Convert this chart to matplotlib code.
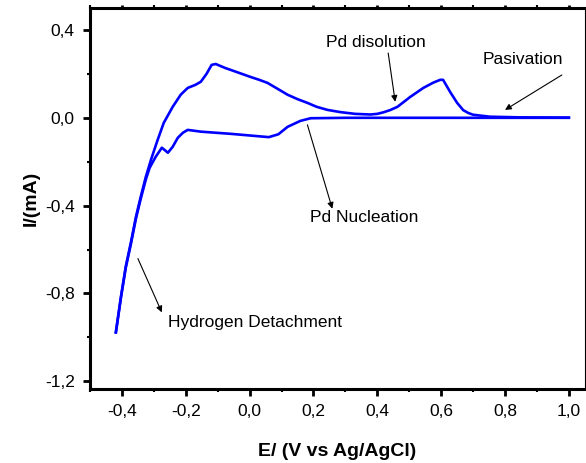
import numpy as np
import matplotlib
matplotlib.use("Agg")
import matplotlib.pyplot as plt
from matplotlib.ticker import MultipleLocator, FuncFormatter

plt.rcParams['font.family'] = ['Liberation Sans', 'DejaVu Sans']

# ── Voltammogram data ────────────────────────────────────────────────────────
anodic_E = [-0.419, -0.403, -0.388, -0.372, -0.356, -0.341, -0.325, -0.309,
            -0.288, -0.269, -0.241, -0.216, -0.194, -0.170, -0.153, -0.135,
            -0.119, -0.106, -0.090, -0.075, -0.059, -0.030, 0.003, 0.030,
            0.056, 0.090, 0.119, 0.150, 0.181, 0.210, 0.244, 0.284, 0.330,
            0.378, 0.400, 0.419, 0.440, 0.463, 0.503, 0.544, 0.575, 0.597,
            0.606, 0.628, 0.650, 0.669, 0.685, 0.700, 0.753, 0.850, 1.000]
anodic_I = [-0.977, -0.814, -0.677, -0.568, -0.450, -0.359, -0.268, -0.191,
            -0.100, -0.023, 0.050, 0.105, 0.136, 0.150, 0.164, 0.200,
            0.241, 0.245, 0.235, 0.226, 0.218, 0.203, 0.186, 0.173,
            0.159, 0.130, 0.105, 0.085, 0.068, 0.050, 0.036, 0.026, 0.018,
            0.015, 0.018, 0.025, 0.035, 0.050, 0.095, 0.136, 0.160, 0.173,
            0.173, 0.118, 0.068, 0.035, 0.022, 0.014, 0.005, 0.002, 0.001]

cathodic_E = [1.000, 0.600, 0.300, 0.191, 0.159, 0.119, 0.090, 0.060, -0.059,
              -0.153, -0.194, -0.209, -0.225, -0.241, -0.256, -0.275, -0.294,
              -0.313, -0.325, -0.341, -0.356, -0.372, -0.388, -0.403, -0.419]
cathodic_I = [0.000, 0.000, 0.000, -0.002, -0.014, -0.041, -0.075, -0.088, -0.073,
              -0.063, -0.055, -0.068, -0.091, -0.132, -0.159, -0.136, -0.177,
              -0.227, -0.280, -0.368, -0.458, -0.575, -0.683, -0.818, -0.977]

# (label, text position, arrow tail, arrow head, alignment)
notes = [
    ("Pd disolution", (0.394, 0.345), (0.434, 0.295), (0.456, 0.073), "center"),
    ("Pasivation", (0.856, 0.264), (0.978, 0.195), (0.800, 0.036), "center"),
    ("Pd Nucleation", (0.359, -0.455), (0.181, -0.032), (0.259, -0.414), "center"),
    ("Hydrogen Detachment", (-0.256, -0.932), (-0.350, -0.641), (-0.275, -0.886), "left"),
]

fig = plt.figure(figsize=(5.86, 4.63), dpi=100)
ax = fig.add_axes([0.1536, 0.1598, 0.8444, 0.8229])

ax.plot(anodic_E, anodic_I, color='#0000ff', lw=1.9, solid_joinstyle='round')
ax.plot(cathodic_E, cathodic_I, color='#0000ff', lw=1.9, solid_joinstyle='round')

for label, txt, tail, head, ha in notes:
    ax.text(txt[0], txt[1], label, fontsize=12.5, ha=ha, va='center')
    ax.annotate('', xy=head, xytext=tail,
                arrowprops=dict(arrowstyle='-|>', color='black', lw=0.8,
                                mutation_scale=9, shrinkA=0, shrinkB=0))

ax.set_xlim(-0.5, 1.05)
ax.set_ylim(-1.235, 0.5)

comma = FuncFormatter(lambda v, p: f"{v:.1f}".replace('.', ',').replace('-0,0', '0,0'))
ax.xaxis.set_major_locator(MultipleLocator(0.2))
ax.xaxis.set_minor_locator(MultipleLocator(0.1))
ax.yaxis.set_major_locator(MultipleLocator(0.4))
ax.yaxis.set_minor_locator(MultipleLocator(0.2))
ax.xaxis.set_major_formatter(comma)
ax.yaxis.set_major_formatter(comma)

ax.tick_params(which='major', direction='out', length=5, width=2,
               labelsize=12.5, pad=6)
ax.tick_params(which='minor', direction='out', length=2.5, width=1.5)
ax.tick_params(axis='x', which='both', top=True, labeltop=False)

for side in ['left', 'bottom', 'top']:
    ax.spines[side].set_linewidth(2.2)
ax.spines['right'].set_linewidth(0.8)

# short ticks on the top spine
for t in ax.xaxis.get_major_ticks() + ax.xaxis.get_minor_ticks():
    t.tick2line.set_markersize(2)

ax.set_xlabel('E/ (V vs Ag/AgCl)', fontsize=14, fontweight='bold', labelpad=17)
ax.set_ylabel('I/(mA)', fontsize=14, fontweight='bold', labelpad=4)

fig.savefig('out.png', dpi=100)
